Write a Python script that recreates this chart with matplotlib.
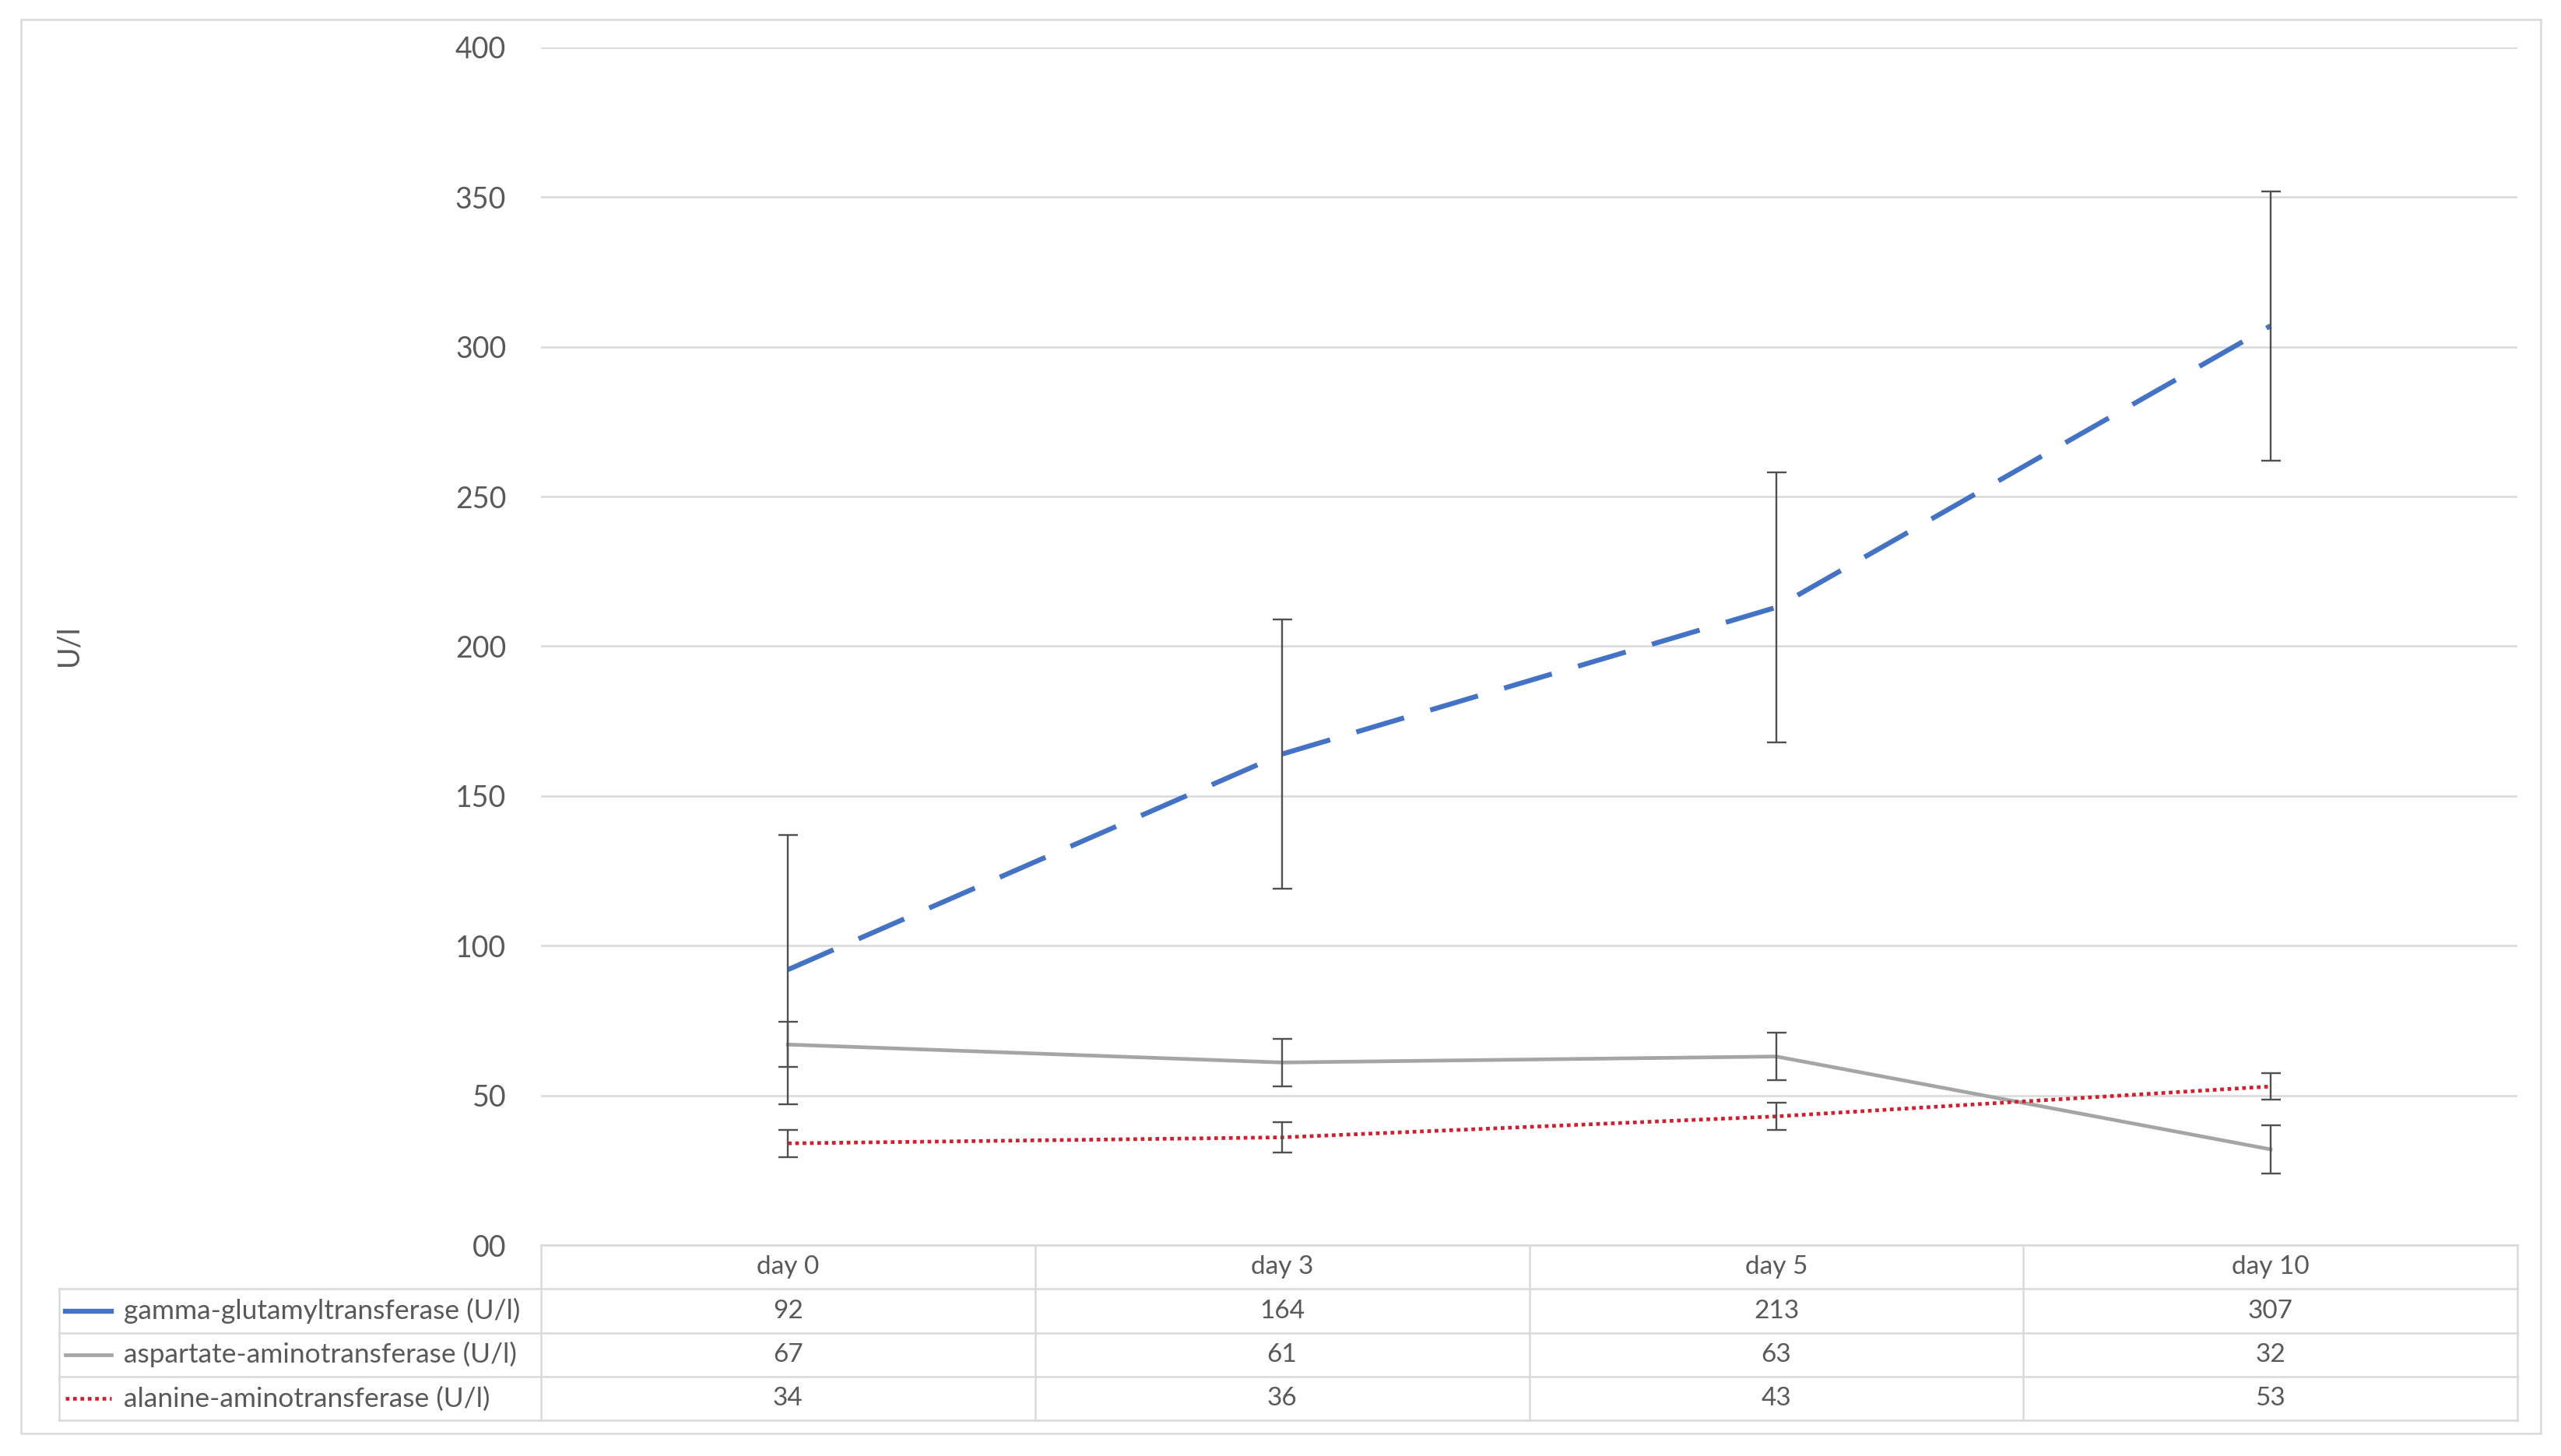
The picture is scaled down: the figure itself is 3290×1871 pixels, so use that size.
import matplotlib
matplotlib.use('Agg')
from matplotlib import pyplot as plt
from matplotlib.transforms import blended_transform_factory
from matplotlib.patches import Rectangle

days = ['day 0', 'day 3', 'day 5', 'day 10']
ggt = [92, 164, 213, 307]
ast = [67, 61, 63, 32]
alt = [34, 36, 43, 53]
ggt_err = [45, 45, 45, 45]
ast_err = [7.5, 8, 8, 8]
alt_err = [4.5, 5, 4.5, 4.5]
names = ['gamma-glutamyltransferase (U/l)',
         'aspartate-aminotransferase (U/l)',
         'alanine-aminotransferase (U/l)']
yticks = [0, 50, 100, 150, 200, 250, 300, 350, 400]
ytick_labels = ['00', '50', '100', '150', '200', '250', '300', '350', '400']

plt.rcParams['font.family'] = ['Lato', 'DejaVu Sans']
txt = '#595959'
gridc = '#D9D9D9'

styles = [
    dict(color='#4472C4', lw=4.6, dashes=(10, 5.5)),
    dict(color='#A5A5A5', lw=3.4, ls='-'),
    dict(color='#D01F2E', lw=3.4, dashes=(1.0, 1.0)),
]
series = [ggt, ast, alt]
errs = [ggt_err, ast_err, alt_err]

fig = plt.figure(figsize=(32.91, 18.71), dpi=100)
ax = fig.add_axes([0.2111, 0.1448, 0.9828 - 0.2111, 0.9675 - 0.1448])

x = list(range(len(days)))
for s, e, st in zip(series, errs, styles):
    ax.plot(x, s, zorder=3, **st)
    ax.errorbar(x, s, yerr=e, fmt='none', ecolor='#505050', elinewidth=1.7,
                capsize=9, capthick=1.7, zorder=4)

ax.set_xlim(-0.5, 3.5)
ax.set_ylim(0, 400)
ax.set_yticks(yticks)
ax.set_yticklabels(ytick_labels)
ax.set_xticks([])
ax.tick_params(axis='y', length=0, pad=32, labelsize=27, labelcolor=txt)
ax.yaxis.grid(True, color=gridc, lw=1.8)
ax.set_axisbelow(True)
for sp in ax.spines.values():
    sp.set_visible(False)

fig.text(0.0268, 0.5567, 'U/l', rotation=90, ha='center', va='center',
         fontsize=27, color=txt)

# data table under the plot
tr = blended_transform_factory(ax.transData, ax.transAxes)
h = 0.0366
leg_left = -1.475
rows_y = [0, -h, -2 * h, -3 * h, -4 * h]
line_kw = dict(color=gridc, lw=1.8, transform=tr, clip_on=False)
ax.plot([-0.5, 3.5], [rows_y[0], rows_y[0]], **line_kw)
for yy in rows_y[1:]:
    ax.plot([leg_left, 3.5], [yy, yy], **line_kw)
for xx in [-0.5, 0.5, 1.5, 2.5, 3.5]:
    ax.plot([xx, xx], [rows_y[0], rows_y[-1]], **line_kw)
ax.plot([leg_left, leg_left], [rows_y[1], rows_y[-1]], **line_kw)

for i, d in enumerate(days):
    ax.text(i, -h / 2, d, transform=tr, ha='center', va='center',
            fontsize=24, color=txt)
for r, (nm, s, st) in enumerate(zip(names, series, styles)):
    yc = rows_y[r + 1] - h / 2
    kw = dict(st)
    if r == 0:
        kw.pop('dashes')
    ax.plot([-1.462, -1.369], [yc, yc], transform=tr, clip_on=False, **kw)
    ax.text(-1.343, yc, nm, transform=tr, ha='left', va='center',
            fontsize=25.5, color=txt)
    for i, v in enumerate(s):
        ax.text(i, yc, str(v), transform=tr, ha='center', va='center',
                fontsize=24, color=txt)

fig.add_artist(Rectangle((0.0083, 0.0157), 0.9834, 0.9708,
                         transform=fig.transFigure, fill=False,
                         ec=gridc, lw=1.8))

fig.savefig('out.png', dpi=100)
